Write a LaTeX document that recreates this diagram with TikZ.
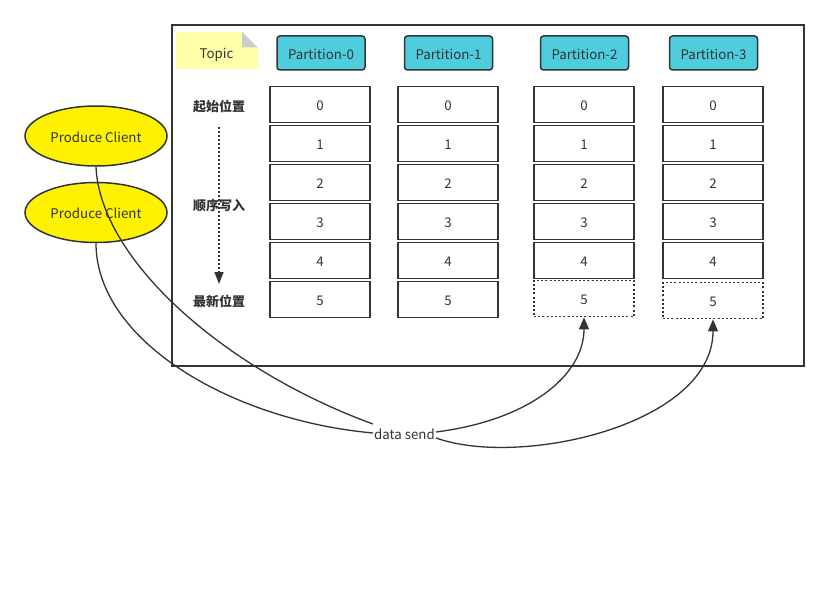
\documentclass[tikz,border=0pt]{standalone}
\usepackage{fontspec}
\setmainfont{Noto Sans CJK SC}
\usetikzlibrary{shapes.geometric,arrows.meta}
\definecolor{ink}{HTML}{333333}
\definecolor{cyanfill}{HTML}{4ECDDE}
\definecolor{notefill}{HTML}{FFFFAA}
\definecolor{foldgray}{HTML}{CCCCCC}
\begin{document}
\begin{tikzpicture}[x=1pt,y=-1pt,
 txt/.style={font=\fontsize{13.3}{15}\selectfont, text=ink, text height=12.5pt, text depth=0pt},
 cell/.style={txt, draw=ink, line width=1.5pt, minimum width=100pt, minimum height=36pt, inner sep=0pt},
 newcell/.style={cell, line width=1.7pt, dash pattern=on 2pt off 2.2pt},
 phead/.style={txt, draw=ink, line width=1.5pt, fill=cyanfill, rounded corners=3pt, minimum width=88pt, minimum height=34pt, inner sep=0pt},
 side/.style={font=\fontsize{13}{15}\selectfont\bfseries, text=ink, text height=13pt, text depth=0.5pt},
 client/.style={ellipse, draw=ink, line width=1.5pt, fill=yellow, minimum width=142pt, minimum height=60pt, inner sep=0pt, txt},
 link/.style={draw=ink, line width=1.3pt},
 tip/.style={-{Triangle[width=10pt,length=12pt]}}
]
\useasboundingbox (0,0) rectangle (829,596);
\fill[white] (0,0) rectangle (829,596);
% frame
\node[draw=ink, line width=1.5pt, minimum width=632pt, minimum height=341pt, inner sep=0pt] (frame) at (488,195.5) {};
% topic note
\fill[notefill] (176,32) -- (242,32) -- (258,48) -- (258,69) -- (176,69) -- cycle;
\fill[foldgray] (242,32) -- (242,47.5) -- (257.5,47.5) -- cycle;
\node[txt, inner sep=0pt] (topic) at (216.5,52) {Topic};
% partition headers
\node[phead] (p0) at (321,53) {Partition-0};
\node[phead] (p1) at (448.5,53) {Partition-1};
\node[phead] (p2) at (584.5,53) {Partition-2};
\node[phead] (p3) at (713.5,53) {Partition-3};
% cells
\foreach \c/\x in {0/320,1/448,2/584,3/713}{
  \foreach \r in {0,...,4}{
    \node[cell] (c\c\r) at (\x,{104.5+39*\r}) {\r};
  }
}
\node[cell] (c05) at (320,299.5) {5};
\node[cell] (c15) at (448,299.5) {5};
\node[newcell] (c25) at (584,298.5) {5};
\node[newcell] (c35) at (713,300.5) {5};
% side labels
\node[side] (l0) at (219,105) {起始位置};
\node[side] (l1) at (219,204) {顺序写入};
\node[side] (l2) at (219,300) {最新位置};
\coordinate (ws) at (219,127);
\coordinate (we) at (219,284);
\draw[draw=ink, line width=1.5pt, dash pattern=on 2pt off 2pt, -{Triangle[width=9pt,length=12pt]}] (ws) -- (we);
% clients
\node[client] (e1) at (96,136) {Produce Client};
\node[client] (e2) at (96,212.5) {Produce Client};
% label
\node[txt, fill=white, inner sep=1pt] (ds) at (404.5,433) {data send};
% curves
\draw[link] (e1.south) .. controls (100,260) and (225,370) .. ([yshift=9pt]ds.west);
\draw[link] (e2.south) .. controls (96,340) and (230,420) .. (ds.west);
\draw[link, tip] ([yshift=1pt]ds.east) .. controls (530,420) and (584,375) .. (c25.south);
\draw[link, tip] ([yshift=-5pt]ds.east) .. controls (520,468) and (713,425) .. (c35.south);
\end{tikzpicture}
\end{document}
